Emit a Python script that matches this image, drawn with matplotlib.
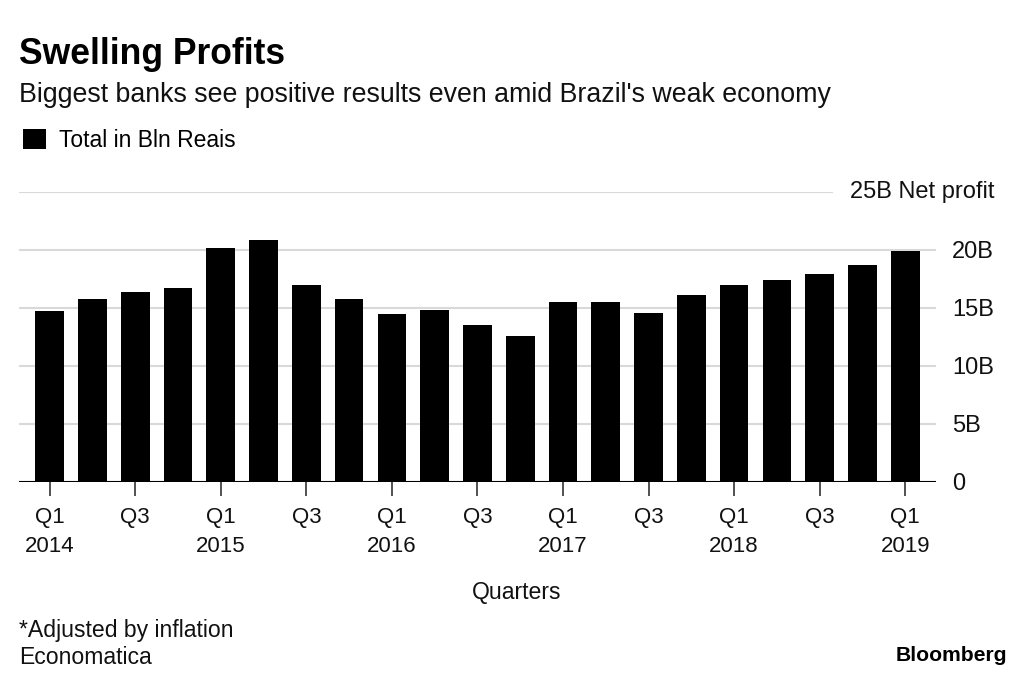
import matplotlib.pyplot as plt

# quarterly net profit of biggest banks, Bln Reais (inflation adjusted)
quarters = ['Q1', 'Q2', 'Q3', 'Q4'] * 5 + ['Q1']
years = [2014] * 4 + [2015] * 4 + [2016] * 4 + [2017] * 4 + [2018] * 4 + [2019]
profit = [14.7, 15.8, 16.4, 16.7, 20.2, 20.9, 17.0, 15.8, 14.5, 14.8, 13.5,
          12.6, 15.5, 15.5, 14.6, 16.1, 17.0, 17.4, 17.9, 18.7, 19.95]
yticks = [0, 5, 10, 15, 20]
ytick_labels = ['0', '5B', '10B', '15B', '20B']

plt.rcParams['font.family'] = ['Liberation Sans', 'DejaVu Sans']

W, H = 1024, 682
fig = plt.figure(figsize=(W / 100, H / 100), dpi=100)
ax = fig.add_axes([19.3 / W, 1 - 481.7 / H, (936 - 19.3) / W, (481.7 - 192) / H])

x = list(range(len(profit)))
ax.bar(x, profit, width=0.67, color='black', zorder=3, label='Total in Bln Reais')

# gridlines, top one stops short for the unit label
for v in yticks:
    if v > 0:
        ax.axhline(v, color='#d9d9d9', lw=1.5, zorder=1)
ax.axhline(25, xmax=(832 - 19.3) / (936 - 19.3), color='#d9d9d9', lw=1.5, zorder=1)
ax.axhline(0, color='black', lw=1.5, zorder=4)

ax.set_xlim(-0.71, 20.72)
ax.set_ylim(0, 25)
for s in ax.spines.values():
    s.set_visible(False)

ax.yaxis.tick_right()
ax.set_yticks(yticks)
ax.set_yticklabels(ytick_labels, fontsize=17, color='#111111')
ax.tick_params(axis='y', length=0, pad=11.5)
ax.text(995 / W, 1 - 192 / H, '25B Net profit', transform=fig.transFigure,
        ha='right', va='center', fontsize=17, color='#111111')

xt = x[::2]
xl = []
for i in xt:
    if quarters[i] == 'Q1':
        xl.append(f'{quarters[i]}\n{years[i]}')
    else:
        xl.append(quarters[i])
ax.set_xticks(xt)
ax.set_xticklabels(xl, fontsize=16, color='#111111', linespacing=1.55)
ax.tick_params(axis='x', length=10, width=1.2, color='#333333', pad=8)

fig.text(517 / W, 1 - 599.3 / H, 'Quarters', ha='center', va='baseline', fontsize=16.6, color='#111111')

fig.text(19 / W, 1 - 64 / H, 'Swelling Profits', ha='left', va='baseline',
         fontsize=25.6, fontweight='bold', color='black')
fig.text(19 / W, 1 - 101.7 / H, "Biggest banks see positive results even amid Brazil's weak economy",
         ha='left', va='baseline', fontsize=19.3, color='#111111')

leg = ax.legend(loc='center left', bbox_to_anchor=(2 / W, 1 - 140.5 / H),
                bbox_transform=fig.transFigure, frameon=False, fontsize=16.5,
                handlelength=1.0, handleheight=1.0, handletextpad=0.6)

fig.text(19 / W, 1 - 636.7 / H, '*Adjusted by inflation', ha='left', va='baseline', fontsize=16.6, color='#111111')
fig.text(19 / W, 1 - 664 / H, 'Economatica', ha='left', va='baseline', fontsize=16.6, color='#111111')
fig.text(1007 / W, 1 - 661 / H, 'Bloomberg', ha='right', va='baseline',
         fontsize=15.2, fontweight='bold', color='black')

fig.savefig('out.png', dpi=100)
